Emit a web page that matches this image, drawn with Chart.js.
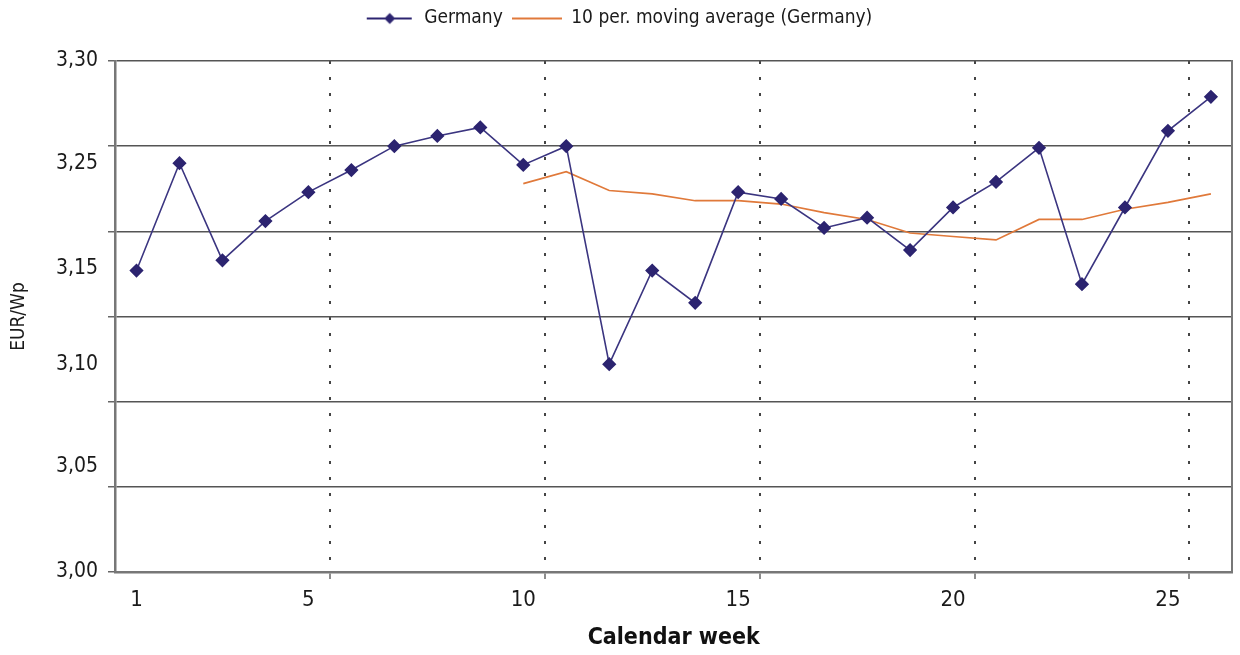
<!DOCTYPE html>
<html>
<head>
<meta charset="utf-8">
<script src="https://cdn.jsdelivr.net/npm/chart.js@4.4.1/dist/chart.umd.min.js"></script>
<style>
  html, body { margin: 0; padding: 0; background: #ffffff; }
  #wrap { width: 1240px; height: 655px; }
</style>
</head>
<body>
<div id="wrap"><canvas id="priceChart" width="1240" height="655"></canvas></div>
<script>
const weeks = ["1", "2", "3", "4", "5", "6", "7", "8", "9", "10", "11", "12", "13",
    "14", "15", "16", "17", "18", "19", "20", "21", "22", "23", "24", "25", "26"];

const germany = [3.177, 3.240, 3.183, 3.206, 3.223, 3.236, 3.250, 3.256, 3.261, 3.239,
    3.250, 3.122, 3.177, 3.158, 3.223, 3.219, 3.202, 3.208, 3.189, 3.214,
    3.229, 3.249, 3.169, 3.214, 3.259, 3.279];

const movingAvg = [null, null, null, null, null, null, null, null, null, 3.228,
    3.235, 3.224, 3.222, 3.218, 3.218, 3.216, 3.211, 3.207, 3.199, 3.197,
    3.195, 3.207, 3.207, 3.213, 3.217, 3.222];

const xTickLabels = ["1", "5", "10", "15", "20", "25"];
const xGridAfter = ["5", "10", "15", "20", "25"];   // dashed line after these weeks

const yGridValues = [3.00, 3.05, 3.10, 3.15, 3.20, 3.25, 3.30];
// the printed labels sit a little off the grid lines in the original
const yTickLabels = ["3,00", "3,05", "3,10", "3,15", "3,25", "3,30"];
const yTickLabelAt = [3.000, 3.062, 3.122, 3.178, 3.240, 3.300];

const FONT = "'Liberation Sans Narrow', 'DejaVu Sans Condensed', 'Roboto Condensed', 'Liberation Sans', sans-serif";
const BLUE = "#2c2470";
const ORANGE = "#e0793a";
const GRID = "#555555";

function near(a, b) { return Math.abs(a - b) < 1e-6; }

function legendIcon(color, marker) {
    const c = document.createElement("canvas");
    c.width = 50;
    c.height = 14;
    const g = c.getContext("2d");
    g.strokeStyle = color;
    g.lineWidth = 2;
    g.beginPath();
    g.moveTo(marker ? 2 : 0, 7);
    g.lineTo(marker ? 47 : 50, 7);
    g.stroke();
    if (marker) {
        g.fillStyle = color;
        g.beginPath();
        g.moveTo(25, 1.5); g.lineTo(30.5, 7); g.lineTo(25, 12.5); g.lineTo(19.5, 7);
        g.closePath();
        g.fill();
    }
    return c;
}

const config = {
    type: "line",
    data: {
        labels: weeks,
        datasets: [
            {
                label: "Germany",
                data: germany,
                borderColor: "#3b3580",
                backgroundColor: BLUE,
                borderWidth: 1.6,
                pointStyle: "rectRot",
                pointRadius: 6,
                pointBorderColor: BLUE,
                pointBackgroundColor: BLUE,
                tension: 0,
            },
            {
                label: "10 per. moving average (Germany)",
                data: movingAvg,
                borderColor: ORANGE,
                backgroundColor: ORANGE,
                borderWidth: 1.6,
                pointRadius: 0,
                tension: 0,
            },
        ],
    },
    options: {
        responsive: false,
        animation: false,
        layout: { padding: { left: 0, right: 3, top: 0, bottom: 0 } },
        plugins: {
            legend: {
                position: "top",
                weight: 1000,
                labels: {
                    usePointStyle: true,
                    pointStyleWidth: 50,
                    padding: 9,
                    color: "#1a1a1a",
                    font: { family: FONT, size: 19 },
                    generateLabels(chart) {
                        const items = Chart.defaults.plugins.legend.labels.generateLabels(chart);
                        items[0].pointStyle = legendIcon(BLUE, true);
                        items[1].pointStyle = legendIcon(ORANGE, false);
                        return items;
                    },
                },
            },
            // empty spacer between legend and plot
            subtitle: {
                display: true,
                text: "",
                weight: 500,
                font: { size: 10, lineHeight: 1 },
                padding: { top: 0, bottom: 13 },
            },
            tooltip: { enabled: false },
        },
        scales: {
            x: {
                type: "category",
                offset: true,
                afterFit: (scale) => { scale.height = 83; },
                grid: {
                    offset: true,
                    lineWidth: 2,
                    tickLength: 7,
                    tickWidth: 1.5,
                    color: (ctx) => (ctx.tick && xGridAfter.includes(weeks[ctx.index - 1])) ? "#444444" : "rgba(0,0,0,0)",
                    tickColor: (ctx) => (ctx.tick && xGridAfter.includes(weeks[ctx.index - 1])) ? "#666666" : "rgba(0,0,0,0)",
                },
                border: { color: "#777777", width: 2.5, dash: [3, 13] },
                ticks: {
                    autoSkip: false,
                    maxRotation: 0,
                    padding: 8,
                    color: "#1a1a1a",
                    font: { family: FONT, size: 22 },
                    callback(value) {
                        const lab = this.getLabelForValue(value);
                        return xTickLabels.includes(lab) ? lab : "";
                    },
                },
                title: {
                    display: true,
                    text: "Calendar week",
                    color: "#111111",
                    font: { family: FONT, size: 23, weight: "bold" },
                    padding: { top: 0, bottom: 3 },
                },
            },
            y: {
                min: 3.0,
                max: 3.3,
                afterFit: (scale) => { scale.width = 115; },
                afterBuildTicks: (scale) => {
                    const vals = yGridValues.concat(yTickLabelAt.filter(v => !yGridValues.some(g => near(g, v))));
                    vals.sort((a, b) => a - b);
                    scale.ticks = vals.map(v => ({ value: v }));
                },
                grid: {
                    lineWidth: 1.5,
                    tickLength: 7,
                    tickWidth: 1.5,
                    color: (ctx) => (ctx.tick && yGridValues.some(g => near(g, ctx.tick.value))) ? GRID : "rgba(0,0,0,0)",
                    tickColor: (ctx) => (ctx.tick && yGridValues.some(g => near(g, ctx.tick.value))) ? "#666666" : "rgba(0,0,0,0)",
                },
                border: { color: "#777777", width: 2.5 },
                ticks: {
                    autoSkip: false,
                    padding: 10,
                    color: "#1a1a1a",
                    font: { family: FONT, size: 21 },
                    callback(value) {
                        const i = yTickLabelAt.findIndex(v => near(v, value));
                        return i >= 0 ? yTickLabels[i] : "";
                    },
                },
                title: {
                    display: true,
                    text: "EUR/Wp",
                    color: "#1a1a1a",
                    font: { family: FONT, size: 19 },
                    padding: { top: 8, bottom: 0 },
                },
            },
            yRight: {
                position: "right",
                min: 3.0,
                max: 3.3,
                afterFit: (scale) => { scale.width = 0; },
                grid: { display: false, drawTicks: false },
                ticks: { display: false },
                border: { color: "#777777", width: 2 },
            },
        },
    },
};

new Chart(document.getElementById("priceChart"), config);
</script>
</body>
</html>
